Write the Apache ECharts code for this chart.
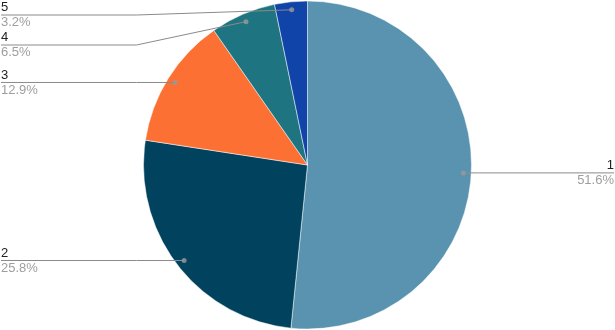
<!DOCTYPE html>
<html><head><meta charset="utf-8">
<script src="https://cdn.jsdelivr.net/npm/echarts@6/dist/echarts.min.js"></script>
<style>html,body{margin:0;padding:0;background:#fff}#c{width:615px;height:330px}</style>
</head><body><div id="c"></div>
<script>
const categories = ['1', '2', '3', '4', '5'];
const values = [16, 8, 4, 2, 1];
const colors = ['#5a93b0', '#01425f', '#fd7033', '#1e7581', '#1044a8'];

const total = values.reduce((a, b) => a + b, 0);
const R = 164, RL = 156;
let cum = 0;
const dotData = values.map(v => { const mid = cum + v / 2; cum += v; return [RL, mid]; });

const chart = echarts.init(document.getElementById('c'));
const pieData = categories.map((c, i) => ({ name: c, value: values[i], itemStyle: { color: colors[i] } }));
chart.setOption({
  animation: false,
  polar: { center: ['50%', '50%'], radius: R },
  angleAxis: { type: 'value', min: 0, max: total, startAngle: 90, clockwise: true, show: false },
  radiusAxis: { type: 'value', min: 0, max: R, show: false },
  series: [
    {
      type: 'pie', radius: R, center: ['50%', '50%'], startAngle: 90, clockwise: true,
      label: { show: false }, labelLine: { show: false }, silent: true, z: 1,
      itemStyle: { borderColor: '#fff', borderWidth: 0.5 },
      data: pieData
    },
    {
      type: 'pie', radius: RL, center: ['50%', '50%'], startAngle: 90, clockwise: true,
      percentPrecision: 1, silent: true, z: 2,
      itemStyle: { color: 'transparent' },
      data: categories.map((c, i) => ({ name: c, value: values[i] })),
      label: {
        show: true, alignTo: 'edge', edgeDistance: 1,
        formatter: '{n|{b}}\n{p|{d}%}',
        rich: {
          n: { fontSize: 13, color: '#222', lineHeight: 15, fontFamily: 'Liberation Sans, Arial' },
          p: { fontSize: 13, color: '#9e9e9e', lineHeight: 15, fontFamily: 'Liberation Sans, Arial' }
        }
      },
      labelLine: { show: true, length: 0.01, length2: 10, lineStyle: { color: '#8a8a8a', width: 1 } },
      labelLayout: function (p) {
        const pts = p.labelLinePoints;
        if (!pts) return {};
        const W = chart.getWidth();
        const isLeft = p.labelRect.x < W / 2;
        const ly = pts[2][1];
        const edgeX = isLeft ? p.labelRect.x : p.labelRect.x + p.labelRect.width;
        const bendX = isLeft ? W / 2 - R - 7 : W / 2 + R + 7;
        return { labelLinePoints: [pts[0], [bendX, ly], [edgeX, ly]] };
      }
    },
    {
      type: 'scatter', coordinateSystem: 'polar', data: dotData, symbolSize: 5, silent: true, z: 3,
      itemStyle: { color: '#9a9a9a' }
    }
  ]
});
</script></body></html>
